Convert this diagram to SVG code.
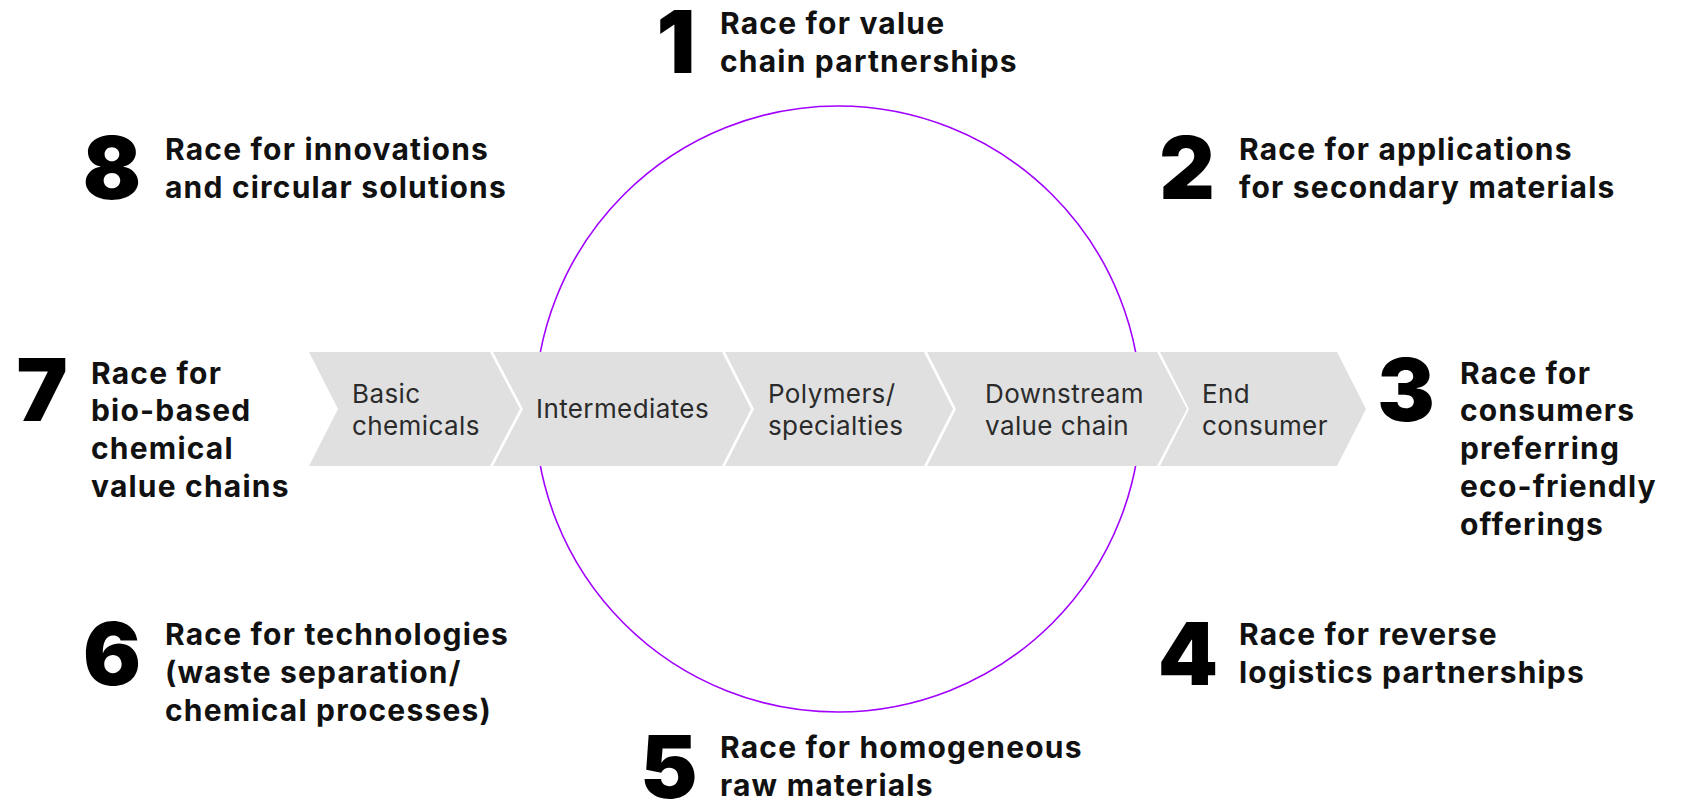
<svg xmlns="http://www.w3.org/2000/svg" width="1686" height="801" viewBox="0 0 1686 801">
<style>
.chev{fill:#e0e0e0;}
.ct{font-family:Inter,"Liberation Sans",sans-serif;font-size:26px;font-weight:400;fill:#2b2b2b;letter-spacing:0.4px;}
.num{font-family:Inter,"Liberation Sans",sans-serif;font-size:86px;font-weight:900;fill:#000;text-anchor:middle;}
.lbl{font-family:Inter,"Liberation Sans",sans-serif;font-size:30px;font-weight:700;fill:#111;letter-spacing:1.2px;}
</style>
<rect width="1686" height="801" fill="#fff"/>
<g id="cycle">
<circle cx="838" cy="409" r="303" fill="none" stroke="#a100ff" stroke-width="1.6"/>
</g>
<g id="chain">
<g id="n-basic"><polygon class="chev" points="309,352 490,352 520,409 490,466 309,466 338,409"/><text class="ct" x="352" y="403">Basic</text><text class="ct" x="352" y="435">chemicals</text></g>
<g id="n-inter"><polygon class="chev" points="493,352 722,352 751,409 722,466 493,466 523,409"/><text class="ct" x="536" y="418">Intermediates</text></g>
<g id="n-poly"><polygon class="chev" points="725,352 924,352 953,409 924,466 725,466 754,409"/><text class="ct" x="768" y="403">Polymers/</text><text class="ct" x="768" y="435">specialties</text></g>
<g id="n-down"><polygon class="chev" points="927,352 1157,352 1187,409 1157,466 927,466 956,409"/><text class="ct" x="985" y="403">Downstream</text><text class="ct" x="985" y="435">value chain</text></g>
<g id="n-end"><polygon class="chev" points="1160,352 1337,352 1366,409 1337,466 1160,466 1189,409"/><text class="ct" x="1202" y="403">End</text><text class="ct" x="1202" y="435">consumer</text></g>
</g>
<g id="r1"><text class="num" x="676" y="73">1</text><text class="lbl" x="720" y="34">Race for value</text><text class="lbl" x="720" y="72">chain partnerships</text></g>
<g id="r2"><text class="num" x="1187" y="199">2</text><text class="lbl" x="1239" y="160">Race for applications</text><text class="lbl" x="1239" y="198">for secondary materials</text></g>
<g id="r3"><text class="num" x="1406" y="421">3</text><text class="lbl" x="1460" y="384">Race for</text><text class="lbl" x="1460" y="421">consumers</text><text class="lbl" x="1460" y="459">preferring</text><text class="lbl" x="1460" y="497">eco-friendly</text><text class="lbl" x="1460" y="535">offerings</text></g>
<g id="r4"><text class="num" x="1188" y="685">4</text><text class="lbl" x="1239" y="645">Race for reverse</text><text class="lbl" x="1239" y="683">logistics partnerships</text></g>
<g id="r5"><text class="num" x="669" y="798">5</text><text class="lbl" x="720" y="758">Race for homogeneous</text><text class="lbl" x="720" y="796">raw materials</text></g>
<g id="r6"><text class="num" x="112" y="685">6</text><text class="lbl" x="165" y="645">Race for technologies</text><text class="lbl" x="165" y="683">(waste separation/</text><text class="lbl" x="165" y="721">chemical processes)</text></g>
<g id="r7"><text class="num" x="42" y="421">7</text><text class="lbl" x="91" y="384">Race for</text><text class="lbl" x="91" y="421">bio-based</text><text class="lbl" x="91" y="459">chemical</text><text class="lbl" x="91" y="497">value chains</text></g>
<g id="r8"><text class="num" x="112" y="199">8</text><text class="lbl" x="165" y="160">Race for innovations</text><text class="lbl" x="165" y="198">and circular solutions</text></g>
</svg>
